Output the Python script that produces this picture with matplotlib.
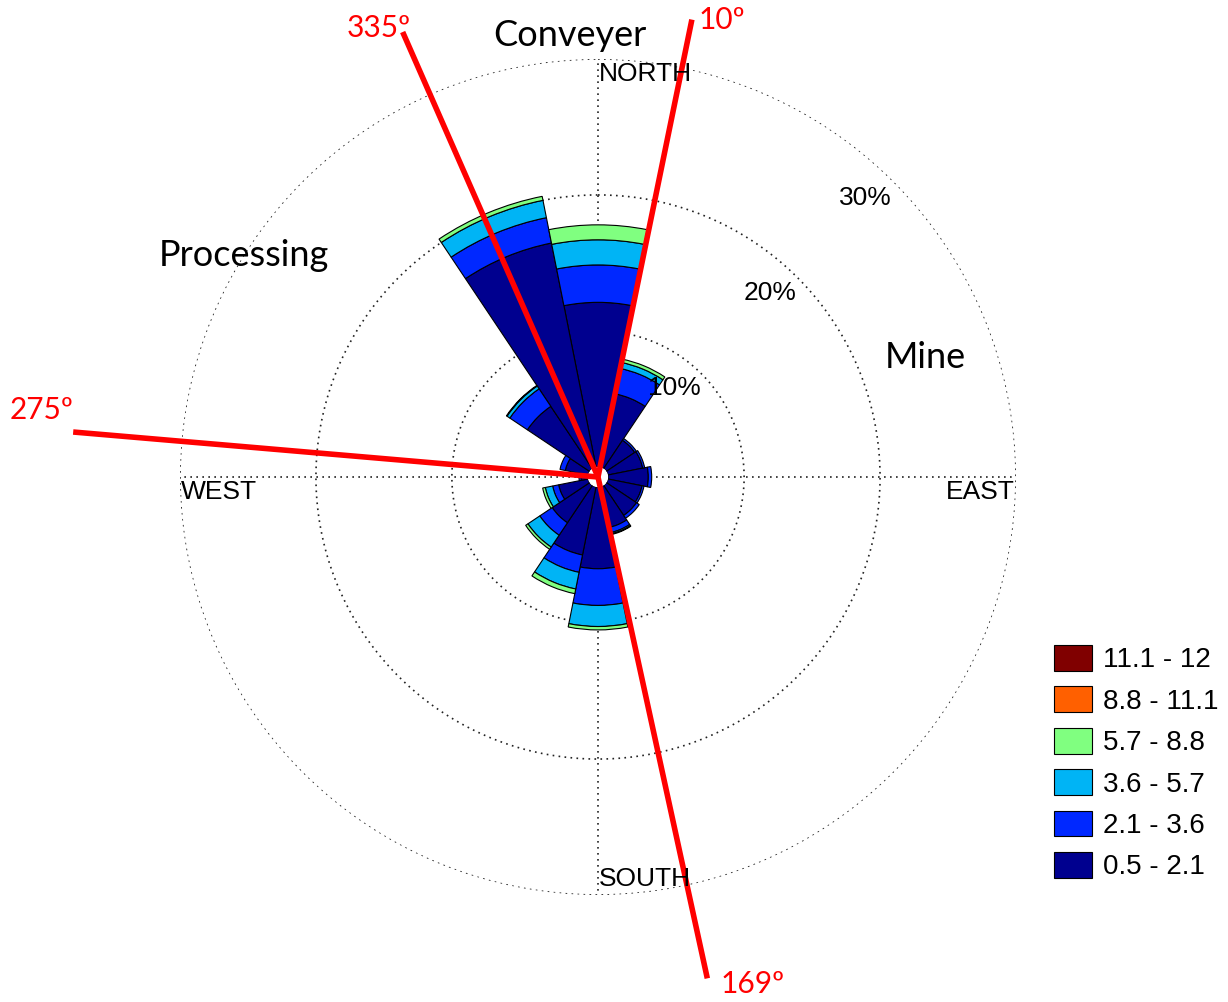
import numpy as np
import matplotlib
matplotlib.use("Agg")
import matplotlib.pyplot as plt
from matplotlib.patches import Patch

# wind rose data: percent frequency per direction, stacked by speed class
directions = np.arange(16) * 22.5
speed_labels = ["0.5 - 2.1", "2.1 - 3.6", "3.6 - 5.7", "5.7 - 8.8", "8.8 - 11.1", "11.1 - 12"]
speed_colors = ["#00008F", "#0028FF", "#00B4F5", "#80FF80", "#FF6000", "#800000"]

freq_05_21 = [12.1, 5.5, 2.5, 2.6, 2.95, 2.55, 2.65, 3.05, 6.0, 5.1, 3.3, 2.2, 0.5, 1.7, 5.5, 16.8]
freq_21_36 = [2.75, 1.9, 0.15, 0.15, 0.25, 0.15, 0.25, 0.4, 2.7, 1.3, 1.1, 0.45, 0.15, 0.4, 1.55, 1.9]
freq_36_57 = [1.85, 0.45, 0, 0, 0, 0, 0, 0.1, 1.55, 1.25, 1.05, 0.55, 0, 0, 0.25, 1.3]
freq_57_88 = [1.1, 0.25, 0, 0, 0, 0, 0, 0.05, 0.25, 0.35, 0.2, 0.2, 0, 0, 0.05, 0.3]
freq_88_111 = [0] * 16
freq_111_12 = [0] * 16
layers = [freq_05_21, freq_21_36, freq_36_57, freq_57_88, freq_88_111, freq_111_12]

ring_levels = [10, 20, 30]
ring_labels = ["10%", "20%", "30%"]

# annotated bearings (drawn angle, label, line length in %)
line_bearings = [336.3, 11.6, 274.9, 167.7]
line_labels = ["335º", "10º", "275º", "169º"]
line_lengths = [35.0, 33.6, 38.0, 37.0]

W, H = 1228, 1002


def fpos(x, y):
    return x / W, 1 - y / H


fig = plt.figure(figsize=(W / 100, H / 100), dpi=100)
R_PX = 418
ax = fig.add_axes([(598 - R_PX) / W, (H - 477 - R_PX) / H, 2 * R_PX / W, 2 * R_PX / H],
                  projection="polar")
ax.set_theta_zero_location("N")
ax.set_theta_direction(-1)
ax.set_ylim(0, 30)
ax.set_rorigin(-0.75)
ax.set_axis_off()

# grid: dotted rings and cross
th = np.linspace(0, 2 * np.pi, 721)
dot = dict(color="#222222", lw=1.2, ls=(0, (1, 2.6)), zorder=1)
for r in ring_levels:
    ax.plot(th, np.full_like(th, r), **dot)
for a in [0, 90, 180, 270]:
    ax.plot([np.radians(a)] * 2, [0, 30], **dot)

# stacked sectors
theta = np.radians(directions)
width = np.radians(22.5)
bottom = np.zeros(16)
for vals, col in zip(layers, speed_colors):
    vals = np.array(vals, dtype=float)
    m = vals > 0
    if m.any():
        ax.bar(theta[m], vals[m], width=width, bottom=bottom[m], color=col,
               edgecolor="black", linewidth=0.8, zorder=2)
    bottom += vals

# red bearing lines
for b, L in zip(line_bearings, line_lengths):
    ax.plot([np.radians(b)] * 2, [-0.75, L], color="red", lw=4,
            solid_capstyle="butt", clip_on=False, zorder=5)

red_font = dict(color="red", fontsize=21.5, family=["Lato", "DejaVu Sans"])
fig.text(*fpos(411, 28), line_labels[0], ha="right", va="center", **red_font)
fig.text(*fpos(699, 20), line_labels[1], ha="left", va="center", **red_font)
fig.text(*fpos(10, 410), line_labels[2], ha="left", va="center", **red_font)
fig.text(*fpos(721, 984), line_labels[3], ha="left", va="center", **red_font)

area_font = dict(color="black", fontsize=26, family=["Lato", "DejaVu Sans"])
fig.text(*fpos(570, 35), "Conveyer", ha="center", va="center", **area_font)
fig.text(*fpos(244, 256), "Processing", ha="center", va="center", **area_font)
fig.text(*fpos(925, 357), "Mine", ha="center", va="center", **area_font)

arial = dict(color="black", fontsize=19, family=["Liberation Sans", "DejaVu Sans"])
fig.text(*fpos(599, 74), "NORTH", ha="left", va="center", **arial)
fig.text(*fpos(599, 879), "SOUTH", ha="left", va="center", **arial)
fig.text(*fpos(181, 492), "WEST", ha="left", va="center", **arial)
fig.text(*fpos(1015, 492), "EAST", ha="right", va="center", **arial)
for (x, y), t in zip([(674, 388), (770, 293), (865, 198)], ring_labels):
    fig.text(*fpos(x, y), t, ha="center", va="center", **arial)

handles = [Patch(facecolor=c, edgecolor="black", linewidth=0.8) for c in speed_colors[::-1]]
fig.legend(handles, speed_labels[::-1], loc="upper left", bbox_to_anchor=fpos(1054, 645),
           frameon=False, prop=dict(family="Liberation Sans", size=20),
           handlelength=1.38, handleheight=1.05, labelspacing=0.47, handletextpad=0.4,
           borderaxespad=0, borderpad=0)

fig.savefig("out.png", dpi=100)
